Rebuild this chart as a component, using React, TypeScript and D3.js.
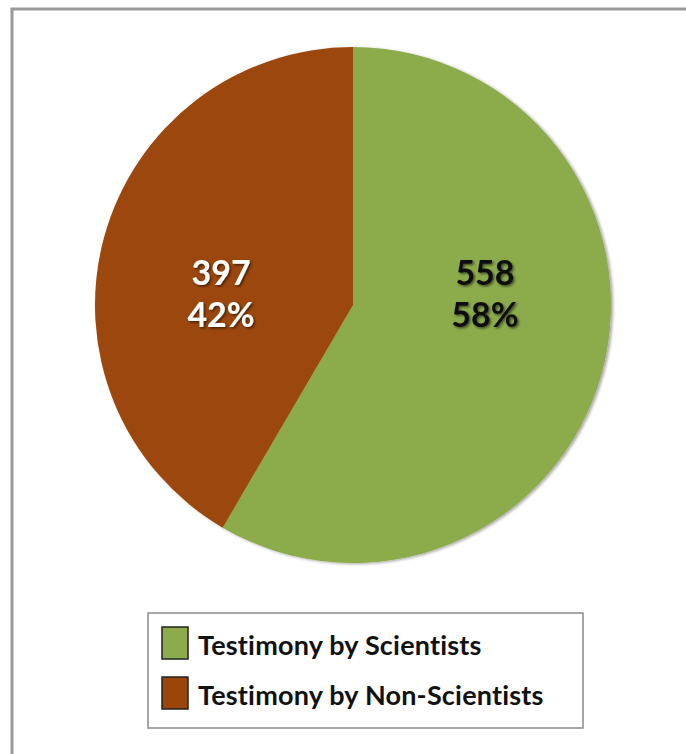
import React from "react";
import * as d3 from "d3";

const categories = ["Testimony by Scientists", "Testimony by Non-Scientists"];
const counts = [558, 397];
const percents = ["58%", "42%"];
const sliceColors = ["#8cab4b", "#9b4609"];
const labelColors = ["#111111", "#ffffff"];

const W = 686;
const H = 754;
const cx = 353;
const cy = 305;
const R = 258;

export default function App() {
  const pie = d3.pie<number>().sort(null).value((d) => d);
  const arcs = pie(counts);
  const arc = d3.arc<d3.PieArcDatum<number>>().innerRadius(0).outerRadius(R);
  const labelArc = d3.arc<d3.PieArcDatum<number>>().innerRadius(R * 0.53).outerRadius(R * 0.53);

  const legendX = 148;
  const legendY = 613;

  return (
    <svg width={W} height={H} style={{ position: "absolute", left: 0, top: 0, background: "#fff" }}>
      <defs>
        <filter id="pieShadow" x="-10%" y="-10%" width="120%" height="120%">
          <feDropShadow dx="2" dy="1" stdDeviation="1.5" floodColor="#000" floodOpacity="0.35" />
        </filter>
        <filter id="txtShadow" x="-20%" y="-20%" width="140%" height="140%">
          <feDropShadow dx="1.5" dy="1.5" stdDeviation="1" floodColor="#000" floodOpacity="0.55" />
        </filter>
      </defs>
      <rect x={12} y={9} width={W} height={H} fill="none" stroke="#9a9a9a" strokeWidth={3} />
      <g transform={`translate(${cx},${cy})`}>
        <g filter="url(#pieShadow)">
          {arcs.map((a, i) => (
            <path key={i} d={arc(a) ?? ""} fill={sliceColors[i]} />
          ))}
        </g>
        {arcs.map((a, i) => {
          // labels sit on the slice's horizontal centroid, vertically centred on the pie
          const [lx] = labelArc.centroid(a);
          return (
            <text
              key={"l" + i}
              x={lx}
              y={-20}
              textAnchor="middle"
              fontFamily="Lato, 'Open Sans', sans-serif"
              fontWeight="bold"
              fontSize={34}
              fill={labelColors[i]}
              filter="url(#txtShadow)"
            >
              <tspan x={lx} y={-20}>{counts[i]}</tspan>
              <tspan x={lx} y={22}>{percents[i]}</tspan>
            </text>
          );
        })}
      </g>
      <rect x={legendX} y={legendY} width={435} height={115} fill="#fff" stroke="#8a8a8a" strokeWidth={1.5} />
      {categories.map((c, i) => (
        <g key={c} transform={`translate(${legendX + 14},${legendY + 14 + i * 50})`}>
          <rect x={0} y={0} width={26} height={32} fill={sliceColors[i]} stroke="#222" strokeWidth={1.5} />
          <text
            x={36}
            y={28}
            fontFamily="Lato, 'Open Sans', sans-serif"
            fontWeight="bold"
            fontSize={27}
            letterSpacing={0.2}
            fill="#111"
          >
            {c}
          </text>
        </g>
      ))}
    </svg>
  );
}
